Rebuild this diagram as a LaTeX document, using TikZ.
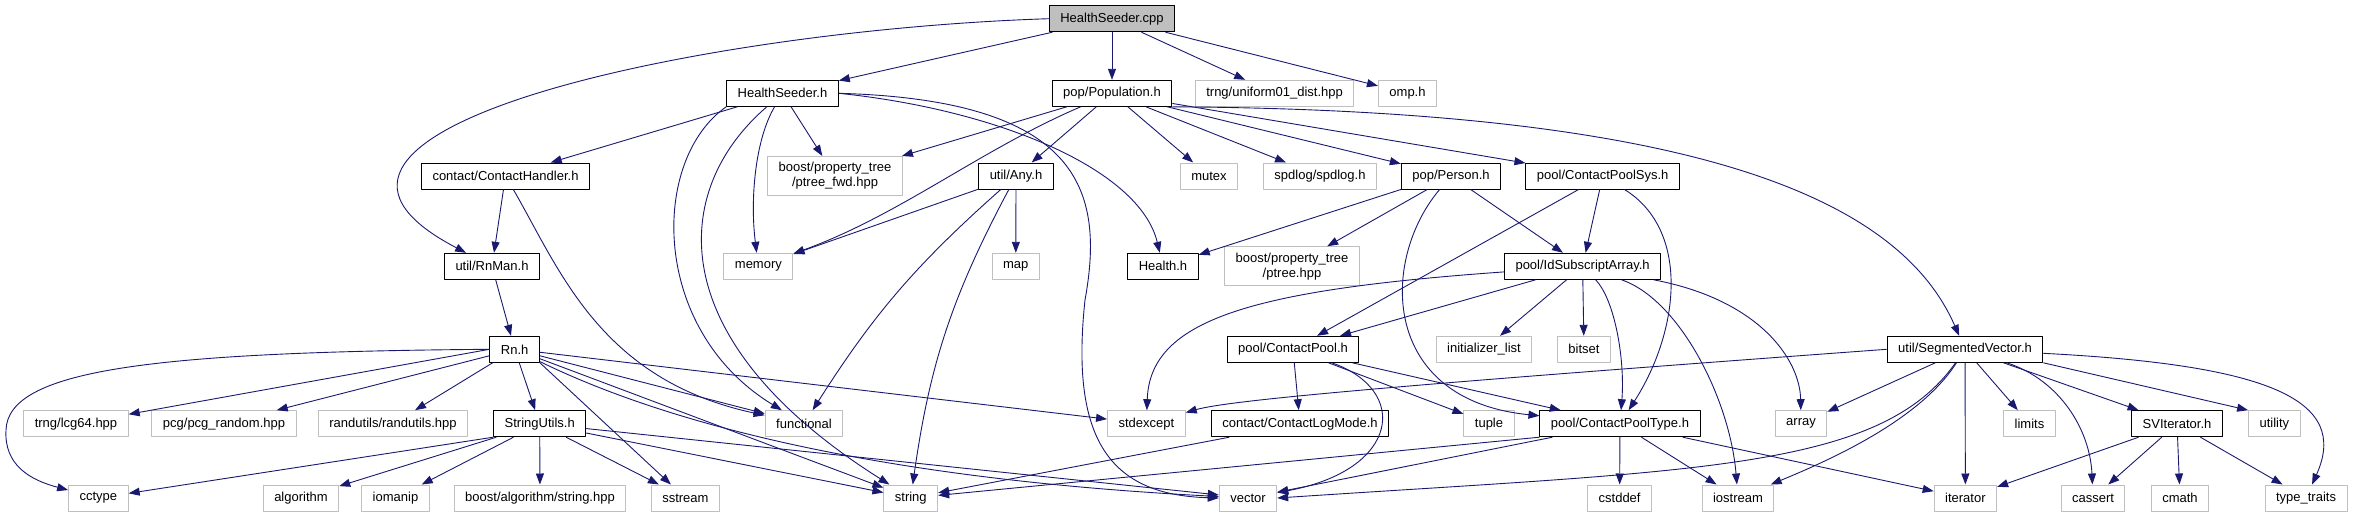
\documentclass[tikz,border=0pt]{standalone}
\usepackage{fontspec}
\setmainfont{Liberation Sans}
\usetikzlibrary{arrows.meta}
\definecolor{edgeblue}{RGB}{25,25,112}
\definecolor{boxgray}{RGB}{191,191,191}
\begin{document}
\begin{tikzpicture}[x=1pt, y=-1pt, font=\fontsize{13}{15}\selectfont, line join=round, >={Triangle[length=11pt,width=8pt]},
	file/.style={draw=black, line width=1pt, fill=white, minimum height=26pt, inner xsep=11pt, inner ysep=0pt},
	sys/.style={file, draw=boxgray},
	two/.style={sys, align=center, minimum height=39pt},
	dep/.style={->, draw=edgeblue, line width=0.9pt}]
		\useasboundingbox (0,0) rectangle (2354,517);
		\node[file, fill=boxgray] (cpp) at (1112,18.7) {HealthSeeder.cpp};
		\node[file] (hs) at (782.5,93.3) {HealthSeeder.h};
		\node[file] (pop) at (1112,93.3) {pop/Population.h};
		\node[sys] (unif) at (1274.6,93.3) {trng/uniform01\_dist.hpp};
		\node[sys] (omp) at (1407.5,93.3) {omp.h};
		\node[file] (ch) at (505.5,176) {contact/ContactHandler.h};
		\node[two] (ptfwd) at (835,176) {boost/property\_tree\\/ptree\_fwd.hpp};
		\node[file] (any) at (1016,176) {util/Any.h};
		\node[sys] (mutex) at (1209,176) {mutex};
		\node[sys] (spd) at (1320,176) {spdlog/spdlog.h};
		\node[file] (person) at (1451,176) {pop/Person.h};
		\node[file] (cps) at (1602.7,176) {pool/ContactPoolSys.h};
		\node[file] (rnman) at (492,266.3) {util/RnMan.h};
		\node[sys] (memory) at (758.4,266.3) {memory};
		\node[sys] (map) at (1015.8,266.3) {map};
		\node[file] (health) at (1163,266.3) {Health.h};
		\node[two] (ptree) at (1292,266.3) {boost/property\_tree\\/ptree.hpp};
		\node[file] (idsa) at (1582.6,266.3) {pool/IdSubscriptArray.h};
		\node[file] (rn) at (514.7,349.3) {Rn.h};
		\node[file] (cpool) at (1293,349.3) {pool/ContactPool.h};
		\node[sys] (initl) at (1484,349.3) {initializer\_list};
		\node[sys] (bitset) at (1584,349.3) {bitset};
		\node[file] (segv) at (1965,349.3) {util/SegmentedVector.h};
		\node[sys] (lcg) at (76,423.7) {trng/lcg64.hpp};
		\node[sys] (pcg) at (224,423.7) {pcg/pcg\_random.hpp};
		\node[sys] (randu) at (393,423.7) {randutils/randutils.hpp};
		\node[file] (strutil) at (539.7,423.7) {StringUtils.h};
		\node[sys] (functional) at (804,423.7) {functional};
		\node[sys] (stdexcept) at (1146.4,423.7) {stdexcept};
		\node[file] (clog) at (1300,423.7) {contact/ContactLogMode.h};
		\node[sys] (tuple) at (1489,423.7) {tuple};
		\node[file] (cptype) at (1620,423.7) {pool/ContactPoolType.h};
		\node[sys] (array) at (1801,423.7) {array};
		\node[sys] (limits) at (2029.5,423.7) {limits};
		\node[file] (sviter) at (2177,423.7) {SVIterator.h};
		\node[sys] (utility) at (2274.4,423.7) {utility};
		\node[sys] (cctype) at (98.4,498) {cctype};
		\node[sys] (algorithm) at (301,498) {algorithm};
		\node[sys] (iomanip) at (395.5,498) {iomanip};
		\node[sys] (bstring) at (540,498) {boost/algorithm/string.hpp};
		\node[sys] (sstream) at (685.4,498) {sstream};
		\node[sys] (string) at (910.8,498) {string};
		\node[sys] (vector) at (1248,498) {vector};
		\node[sys] (cstddef) at (1619.6,498) {cstddef};
		\node[sys] (iostream) at (1738,498) {iostream};
		\node[sys] (iterator) at (1965.4,498) {iterator};
		\node[sys] (cassert) at (2093,498) {cassert};
		\node[sys] (cmath) at (2180,498) {cmath};
		\node[sys] (typetr) at (2306,498) {type\_traits};
		\foreach \a/\b in {cpp/hs, cpp/pop, cpp/unif, cpp/omp, hs/ch, hs/ptfwd, pop/ptfwd, pop/any, pop/mutex, pop/spd, pop/person, pop/cps, any/memory, any/map, ch/rnman, rnman/rn, rn.west/lcg, rn/pcg, rn/randu, rn/strutil, rn/functional, rn/string, rn/stdexcept, rn.south east/sstream, strutil.south west/cctype, strutil/algorithm, strutil/iomanip, strutil/bstring, strutil/sstream, strutil/string, strutil/vector, person.south west/health, person/ptree, person/idsa, cps/cpool, cps/idsa, idsa/cpool, idsa/initl, idsa/bitset, cpool/clog, cpool/tuple, cpool/cptype, cptype.south west/string, cptype/vector, cptype/cstddef, cptype/iostream, cptype/iterator, clog/string, segv/array, segv/limits, segv/iterator, segv/sviter, segv.south east/utility.north west, sviter/iterator, sviter/cassert, sviter/cmath, sviter/typetr}
			\draw[dep] (\a) -- (\b);
		\draw[dep] (cpp.west) .. controls (700,30) and (230,130) .. (rnman);
		\draw[dep] (hs.south west) .. controls (650,160) and (650,330) .. (functional);
		\draw[dep] (hs) .. controls (670,190) and (660,340) .. (string);
		\draw[dep] (hs) .. controls (755,140) and (750,200) .. (memory);
		\draw[dep] (hs.east) .. controls (1000,110) and (1140,170) .. (health);
		\draw[dep] (hs.east) .. controls (1080,100) and (1105,190) .. (1085,300) .. controls (1070,440) and (1110,495) .. (vector.west);
		\draw[dep] (pop) .. controls (980,150) and (900,215) .. (memory);
		\draw[dep] (pop.south east) .. controls (1700,110) and (1900,200) .. (segv);
		\draw[dep] (any) to[bend right=8] (functional);
		\draw[dep] (any) to[bend right=10] (string);
		\draw[dep] (ch) .. controls (560,270) and (600,380) .. (functional);
		\draw[dep] (rn.west) .. controls (150,352) and (8,370) .. (6,430) .. controls (4,465) and (30,480) .. (cctype);
		\draw[dep] (rn) .. controls (680,430) and (900,480) .. (vector);
		\draw[dep] (person) .. controls (1380,260) and (1380,400) .. (cptype);
		\draw[dep] (cps) .. controls (1690,230) and (1680,330) .. (cptype);
		\draw[dep] (idsa) .. controls (1250,290) and (1150,320) .. (stdexcept);
		\draw[dep] (idsa) .. controls (1760,300) and (1800,360) .. (array);
		\draw[dep] (idsa) .. controls (1615,300) and (1625,360) .. (cptype);
		\draw[dep] (idsa) .. controls (1680,300) and (1730,400) .. (iostream);
		\draw[dep] (cpool) .. controls (1410,390) and (1400,470) .. (vector);
		\draw[dep] (segv.west) .. controls (1400,385) and (1230,400) .. (stdexcept);
		\draw[dep] (segv) .. controls (1880,470) and (1700,470) .. (vector.east);
		\draw[dep] (segv) .. controls (1920,420) and (1830,460) .. (iostream);
		\draw[dep] (segv) .. controls (2060,380) and (2090,430) .. (cassert);
		\draw[dep] (segv) .. controls (2270,365) and (2350,400) .. (typetr);
\end{tikzpicture}
\end{document}
